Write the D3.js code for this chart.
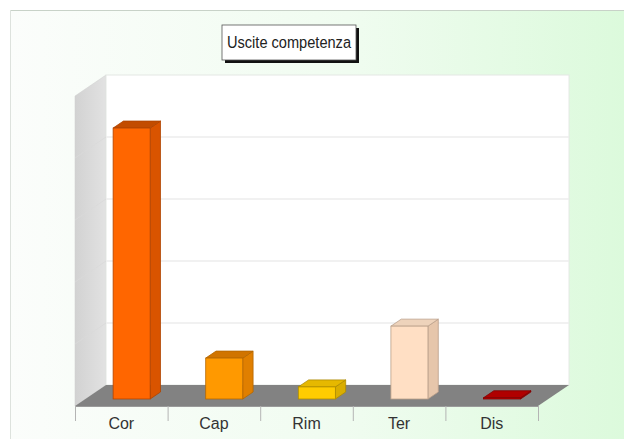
<!DOCTYPE html>
<html>
<head>
<meta charset="utf-8">
<script src="https://cdn.jsdelivr.net/npm/d3@7"></script>
<style>
  html, body { margin: 0; padding: 0; background: #ffffff; }
  svg { display: block; }
</style>
</head>
<body>
<svg id="chart" width="624" height="439"></svg>
<script>
// ---- data ----
const title = "Uscite competenza";
const categories = ["Cor", "Cap", "Rim", "Ter", "Dis"];
const values = [87.4, 13.2, 3.9, 23.5, 0.4];
const yTicks = [0, 20, 40, 60, 80, 100];
const frontColors = ["#ff6600", "#ff9900", "#ffcc00", "#ffdfc4", "#cc0000"];
const sideColors  = ["#d95400", "#e07f00", "#d9ad00", "#e6c6ab", "#a00000"];
const topColors   = ["#c24c00", "#d07400", "#e6b800", "#eed3bb", "#b00000"];

const svg = d3.select("#chart");
const W = 624, H = 439;

// background
const defs = svg.append("defs");
const bg = defs.append("linearGradient").attr("id", "bg").attr("x1", 0).attr("x2", 1).attr("y1", 0).attr("y2", 0);
bg.append("stop").attr("offset", "0%").attr("stop-color", "#fbfdfb");
bg.append("stop").attr("offset", "55%").attr("stop-color", "#f0fcf0");
bg.append("stop").attr("offset", "100%").attr("stop-color", "#dcfadc");
svg.append("rect").attr("x", 0).attr("y", 0).attr("width", W).attr("height", H).attr("fill", "#ffffff");
svg.append("rect").attr("x", 10).attr("y", 10).attr("width", W - 10).attr("height", H - 10).attr("fill", "url(#bg)");
svg.append("line").attr("x1", 10).attr("x2", W).attr("y1", 10.5).attr("y2", 10.5).attr("stroke", "#c8d2c8");
svg.append("line").attr("x1", 10.5).attr("x2", 10.5).attr("y1", 10).attr("y2", H).attr("stroke", "#dde2dd");

const sw = defs.append("linearGradient").attr("id", "side").attr("x1", 0).attr("x2", 1).attr("y1", 0).attr("y2", 0);
sw.append("stop").attr("offset", "0%").attr("stop-color", "#d2d2d2");
sw.append("stop").attr("offset", "100%").attr("stop-color", "#e2e2e2");

// geometry
const x0 = 75, x1 = 538;         // front floor edge
const yFront = 406;              // front floor edge y
const dx = 31, dy = -21;         // depth offset
const yBack = yFront + dy;       // back wall base
const yTop = 75;

const x = d3.scaleBand().domain(categories).range([x0, x1]).paddingInner(0).paddingOuter(0);
const y = d3.scaleLinear().domain([0, 100]).range([yBack, yTop]);

// side wall
svg.append("path")
  .attr("d", `M${x0},${yFront} L${x0},${yTop - dy} L${x0 + dx},${yTop} L${x0 + dx},${yBack} Z`)
  .attr("fill", "url(#side)").attr("stroke", "#cfcfcf").attr("stroke-width", 0.5);
// back wall
svg.append("rect").attr("x", x0 + dx).attr("y", yTop).attr("width", x1 - x0).attr("height", yBack - yTop)
  .attr("fill", "#ffffff").attr("stroke", "#e4e8e4").attr("stroke-width", 1);
// gridlines
yTicks.slice(1, -1).forEach(t => {
  svg.append("line").attr("x1", x0 + dx).attr("x2", x1 + dx).attr("y1", y(t)).attr("y2", y(t))
    .attr("stroke", "#ececec").attr("stroke-width", 1.5);
  svg.append("line").attr("x1", x0).attr("x2", x0 + dx).attr("y1", y(t) - dy).attr("y2", y(t))
    .attr("stroke", "#d9d9d9").attr("stroke-width", 0.8);
});
// floor
svg.append("path")
  .attr("d", `M${x0},${yFront} L${x0 + dx},${yBack} L${x1 + dx},${yBack} L${x1},${yFront} Z`)
  .attr("fill", "#828282");

// axis ticks & labels
svg.append("line").attr("x1", x0).attr("x2", x1).attr("y1", yFront + 0.5).attr("y2", yFront + 0.5)
  .attr("stroke", "#9a9a9a");
const edges = categories.map(c => x(c)).concat([x1]);
svg.selectAll(".tick").data(edges).enter().append("line")
  .attr("x1", d => d + 0.5).attr("x2", d => d + 0.5).attr("y1", yFront).attr("y2", yFront + 15)
  .attr("stroke", "#b4b4b4");
svg.selectAll(".lab").data(categories).enter().append("text")
  .attr("x", d => x(d) + x.bandwidth() / 2).attr("y", 429)
  .attr("text-anchor", "middle").attr("font-family", "Liberation Sans, Arial, sans-serif")
  .attr("font-size", 16).attr("fill", "#333333").text(d => d);

// bars (3D boxes placed at mid depth)
const bw = x.bandwidth() * 0.4;
const f0 = 1 / 3, f1 = 2 / 3;
const g = svg.append("g");
categories.forEach((c, i) => {
  const v = values[i];
  const cx = x(c) + x.bandwidth() / 2;
  const left = cx - bw / 2 + dx * f0, right = left + bw;
  const base = yFront + dy * f0;
  const h = y(0) - y(v);
  const top = base - h;
  const ddx = dx * (f1 - f0), ddy = dy * (f1 - f0);
  const stroke = d3.color(sideColors[i]).darker(0.6);
  g.append("path").attr("d", `M${right},${base} L${right + ddx},${base + ddy} L${right + ddx},${top + ddy} L${right},${top} Z`)
    .attr("fill", sideColors[i]).attr("stroke", stroke).attr("stroke-width", 0.8);
  g.append("path").attr("d", `M${left},${top} L${left + ddx},${top + ddy} L${right + ddx},${top + ddy} L${right},${top} Z`)
    .attr("fill", topColors[i]).attr("stroke", stroke).attr("stroke-width", 0.8);
  g.append("rect").attr("x", left).attr("y", top).attr("width", bw).attr("height", Math.max(h, 0.5))
    .attr("fill", frontColors[i]).attr("stroke", stroke).attr("stroke-width", 0.8);
});

// title box
const tx = 222, ty = 25, tw = 134, th = 35;
svg.append("rect").attr("x", tx + 3).attr("y", ty + 3).attr("width", tw).attr("height", th).attr("fill", "#111111");
svg.append("rect").attr("x", tx).attr("y", ty).attr("width", tw).attr("height", th)
  .attr("fill", "#ffffff").attr("stroke", "#555555").attr("stroke-width", 0.8);
svg.append("text").attr("x", tx + tw / 2).attr("y", ty + 23).attr("text-anchor", "middle")
  .attr("font-family", "Liberation Sans, Arial, sans-serif").attr("font-size", 16).attr("fill", "#222222")
  .attr("textLength", 124).attr("lengthAdjust", "spacingAndGlyphs")
  .text(title);
</script>
</body>
</html>
